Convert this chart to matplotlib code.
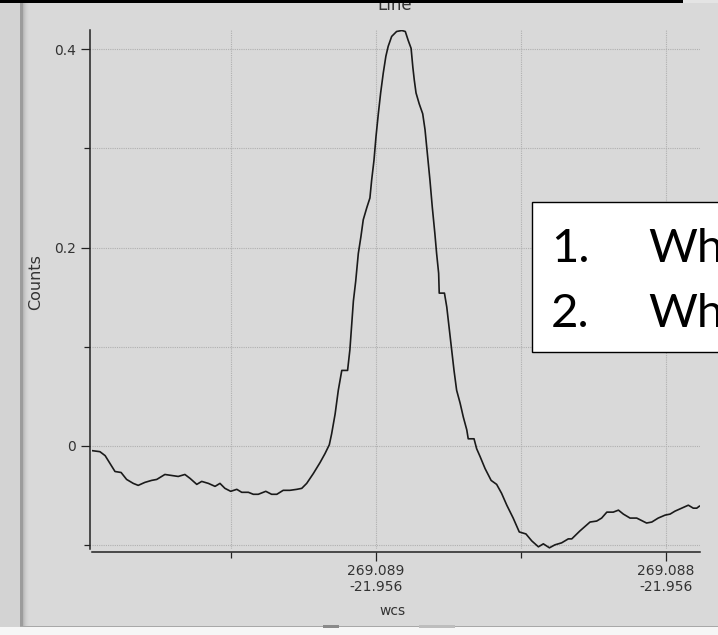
import matplotlib
matplotlib.use("Agg")
import matplotlib.pyplot as plt
from matplotlib.patches import Rectangle
import numpy as np

# Profile along the line: RA offset from 269.089 deg (micro-degrees) and counts
ra0 = 269.089
dec_label = "-21.956"
ra_off = [978, 952, 934, 917, 900, 879, 860, 837, 820, 797, 774, 756, 728, 704,
          682, 659, 641, 618, 601, 578, 555, 538, 521, 501, 480, 463, 440, 423,
          406, 380, 360, 342, 320, 297, 273, 256, 239, 216, 193, 176, 161, 153,
          141, 130, 118, 98, 90, 84, 78, 70, 61, 52, 44, 32, 21, 15, 7, 0,
          -8, -16, -25, -34, -42, -54, -71, -89, -101, -111, -121, -127, -132,
          -138, -149, -161, -169, -177, -186, -194, -203, -209, -216, -218, -236,
          -244, -253, -261, -269, -278, -290, -301, -313, -318, -338, -347, -359,
          -376, -397, -416, -433, -451, -473, -494, -517, -537, -560, -577, -598,
          -617, -640, -663, -675, -703, -738, -761, -778, -796, -818, -836, -853,
          -876, -899, -933, -951, -973, -997, -1014, -1031, -1054, -1077, -1094,
          -1106, -1115]
counts = [-0.005, -0.006, -0.010, -0.018, -0.026, -0.027, -0.034, -0.038, -0.040,
          -0.037, -0.035, -0.034, -0.029, -0.030, -0.031, -0.029, -0.033, -0.039,
          -0.036, -0.038, -0.041, -0.038, -0.043, -0.046, -0.044, -0.047, -0.047,
          -0.049, -0.049, -0.046, -0.049, -0.049, -0.045, -0.045, -0.044, -0.043,
          -0.038, -0.028, -0.017, -0.008, 0.001, 0.012, 0.032, 0.056, 0.076, 0.076,
          0.097, 0.122, 0.146, 0.166, 0.194, 0.211, 0.228, 0.240, 0.250, 0.268,
          0.288, 0.312, 0.335, 0.356, 0.376, 0.393, 0.403, 0.413, 0.418, 0.419,
          0.418, 0.409, 0.401, 0.382, 0.369, 0.356, 0.345, 0.335, 0.319, 0.295,
          0.268, 0.241, 0.214, 0.194, 0.174, 0.154, 0.154, 0.140, 0.117, 0.097,
          0.076, 0.056, 0.043, 0.029, 0.016, 0.007, 0.007, -0.003, -0.011, -0.023,
          -0.035, -0.039, -0.048, -0.060, -0.073, -0.087, -0.089, -0.096, -0.102,
          -0.099, -0.103, -0.100, -0.098, -0.094, -0.094, -0.086, -0.077, -0.076,
          -0.073, -0.067, -0.067, -0.065, -0.069, -0.073, -0.073, -0.078, -0.077,
          -0.073, -0.070, -0.069, -0.066, -0.063, -0.060, -0.063, -0.063, -0.061]

major_ra = [269.089, 269.088]
minor_ra = [269.0895, 269.0885]
yticks_major = [0, 0.2, 0.4]
yticks_minor = [-0.1, 0.1, 0.3]
box_lines = ["1.", "2."]
box_words = ["Wh", "Wh"]

ra = ra0 + np.array(ra_off) * 1e-6

bg = "#d9d9d9"
ink = "#333333"
W, H = 718, 635

fig = plt.figure(figsize=(W / 100, H / 100), dpi=100, facecolor=bg)
ax = fig.add_axes([92 / W, 1 - 548.5 / H, 608 / W, 518.5 / H])
ax.set_facecolor(bg)

ax.plot(ra, counts, color="#1a1a1a", lw=1.2, zorder=3)

ax.set_xlim(ra0 + 979.3e-6, ra0 - 1117.2e-6)
ax.set_ylim(-0.1037, 0.4195)

ax.set_xticks(major_ra, [f"{v:.3f}\n{dec_label}" for v in major_ra],
              multialignment="left")
ax.set_xticks(minor_ra, minor=True)
ax.set_yticks(yticks_major, [f"{v:g}" for v in yticks_major])
ax.set_yticks(yticks_minor, minor=True)

for s in ["top", "right"]:
    ax.spines[s].set_visible(False)
ax.spines["left"].set_position(("outward", 1.5))
ax.spines["bottom"].set_position(("outward", 2.5))
for s in ["left", "bottom"]:
    ax.spines[s].set_color("#222222")
    ax.spines[s].set_linewidth(1.1)

ax.tick_params(which="major", length=6.8, width=0.9, color="#222222",
               labelsize=10, labelcolor=ink)
ax.tick_params(which="minor", length=4.5, width=0.9, color="#222222")
ax.tick_params(axis="x", which="both", pad=2)
ax.tick_params(axis="y", which="major", pad=3)

ax.grid(which="both", color="#b0b0b0", lw=0.8, ls=(0, (1, 1)))

ax.set_xlabel("wcs", fontsize=10, color=ink, va="baseline")
ax.xaxis.set_label_coords((392 - 92) / 608, (548.5 - 615) / 518.5)
ax.set_ylabel("Counts", fontsize=11.5, color=ink, va="center", ha="center")
ax.yaxis.set_label_coords((35.5 - 92) / 608, (548.5 - 282) / 518.5)
ax.text((395 - 92) / 608, (548.5 - 10.5) / 518.5, "Line", transform=ax.transAxes,
        ha="center", va="baseline", fontsize=12, color=ink)


def px_rect(x0, y0, x1, y1, **kw):
    # rectangle in screenshot pixel coordinates (y down)
    fig.patches.append(Rectangle((x0 / W, 1 - y1 / H), (x1 - x0) / W, (y1 - y0) / H,
                                 transform=fig.transFigure, figure=fig, **kw))


# window chrome around the plot
px_rect(0, 0, 20, 627, facecolor="#d3d3d3", lw=0, zorder=-1)
px_rect(20, 0, 22.5, 627, facecolor="#9c9c9c", lw=0, zorder=-1)
for i, c in enumerate(["#b8b8b8", "#c2c2c2", "#cacaca", "#d0d0d0", "#d4d4d4", "#d7d7d7"]):
    px_rect(22.5 + i, 0, 23.5 + i, 627, facecolor=c, lw=0, zorder=-1)
px_rect(20, 625.5, W, 627, facecolor="#a8a8a8", lw=0, zorder=-1)
px_rect(0, 627, W, H, facecolor="#f6f6f6", lw=0, zorder=-1)
px_rect(323, 625, 339, 627.5, facecolor="#8a8a8a", lw=0, zorder=-1)
px_rect(419, 625, 455, 627.5, facecolor="#bdbdbd", lw=0, zorder=-1)
px_rect(683, 0, W, 2.5, facecolor="#e4e4e4", lw=0, zorder=10)
px_rect(0, 0, 683, 2.7, facecolor="black", lw=0, zorder=10)

# overlaid text box, running off the right edge
px_rect(531.7, 202.3, W + 20, 351.7, facecolor="white", edgecolor="black",
        lw=1.0, zorder=8)
for i, (num, word) in enumerate(zip(box_lines, box_words)):
    yb = 1 - (262 + 65 * i) / H
    fig.text(551 / W, yb, num, fontsize=34, family="Lato", color="black",
             va="baseline", ha="left", zorder=9)
    fig.text(648 / W, yb, word, fontsize=34, family="Lato", color="black",
             va="baseline", ha="left", zorder=9)

fig.savefig("out.png", dpi=100, facecolor=bg)
